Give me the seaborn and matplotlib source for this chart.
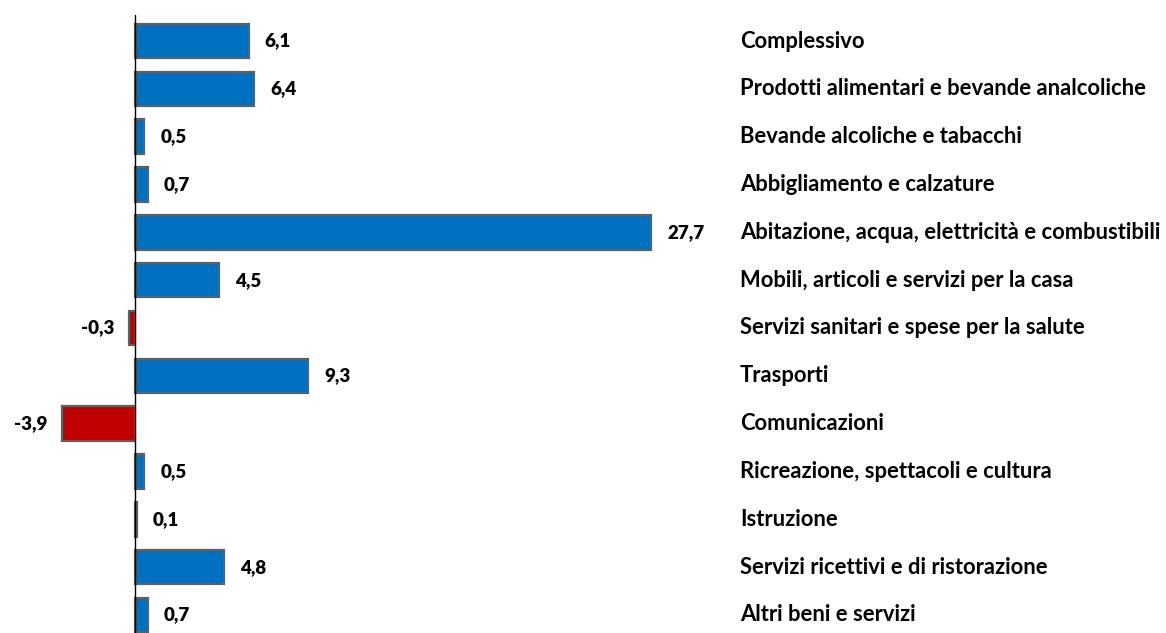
import matplotlib
matplotlib.use("Agg")
import matplotlib.pyplot as plt
import matplotlib.transforms as mtransforms
import seaborn as sns
import pandas as pd

categories = [
    "Complessivo",
    "Prodotti alimentari e bevande analcoliche",
    "Bevande alcoliche e tabacchi",
    "Abbigliamento e calzature",
    "Abitazione, acqua, elettricità e combustibili",
    "Mobili, articoli e servizi per la casa",
    "Servizi sanitari e spese per la salute",
    "Trasporti",
    "Comunicazioni",
    "Ricreazione, spettacoli e cultura",
    "Istruzione",
    "Servizi ricettivi e di ristorazione",
    "Altri beni e servizi",
]
values = [6.1, 6.4, 0.5, 0.7, 27.7, 4.5, -0.3, 9.3, -3.9, 0.5, 0.1, 4.8, 0.7]

sns.set_theme(style="white")
plt.rcParams["font.family"] = ["Lato", "DejaVu Sans"]

df = pd.DataFrame({"cat": categories, "val": values})
df["sign"] = ["pos" if v >= 0 else "neg" for v in values]

fig = plt.figure(figsize=(11.66, 6.33), dpi=100)
ax = fig.add_axes([0, 0, 1, 1])
sns.barplot(data=df, x="val", y="cat", hue="sign", order=categories,
            palette={"pos": "#0070C0", "neg": "#C00000"}, dodge=False,
            saturation=1, width=0.72, edgecolor="#606060", linewidth=1.6,
            legend=False, ax=ax, orient="h")

px_per_unit = 18.63
row_px = 47.83
ylim = (12.377, -41 / row_px)
ax.axvline(0, ymin=0, ymax=1 - 15 / 633, color="black", linewidth=1.0, zorder=5)
for s in ax.spines.values():
    s.set_visible(False)
ax.set_xticks([])
ax.set_yticks([])
ax.set_xlabel("")
ax.set_ylabel("")
ax.set_autoscale_on(False)

for i, v in enumerate(values):
    lab = f"{v:.1f}".replace(".", ",")
    if v >= 0:
        ax.annotate(lab, (v, i), xytext=(11.5, 0), textcoords="offset points",
                    ha="left", va="center", fontsize=13.5, fontweight="heavy", color="black")
    else:
        ax.annotate(lab, (v, i), xytext=(-11, 0), textcoords="offset points",
                    ha="right", va="center", fontsize=13.5, fontweight="heavy", color="black")

trans = mtransforms.blended_transform_factory(ax.transAxes, ax.transData)
texts = []
for i, c in enumerate(categories):
    t = ax.text(740 / 1166, i, c, transform=trans, ha="left", va="center",
                fontsize=13, fontweight="bold", color="black")
    texts.append(t)

# fit the longest label to the reference width (~422 px)
renderer = fig.canvas.get_renderer()
w = max(t.get_window_extent(renderer).width for t in texts)
scale = 420 / w
for t in texts:
    t.set_fontsize(13 * scale)

ax.set_xlim(-135 / px_per_unit, (1166 - 135) / px_per_unit)
ax.set_ylim(*ylim)
fig.savefig("out.png", dpi=100)
